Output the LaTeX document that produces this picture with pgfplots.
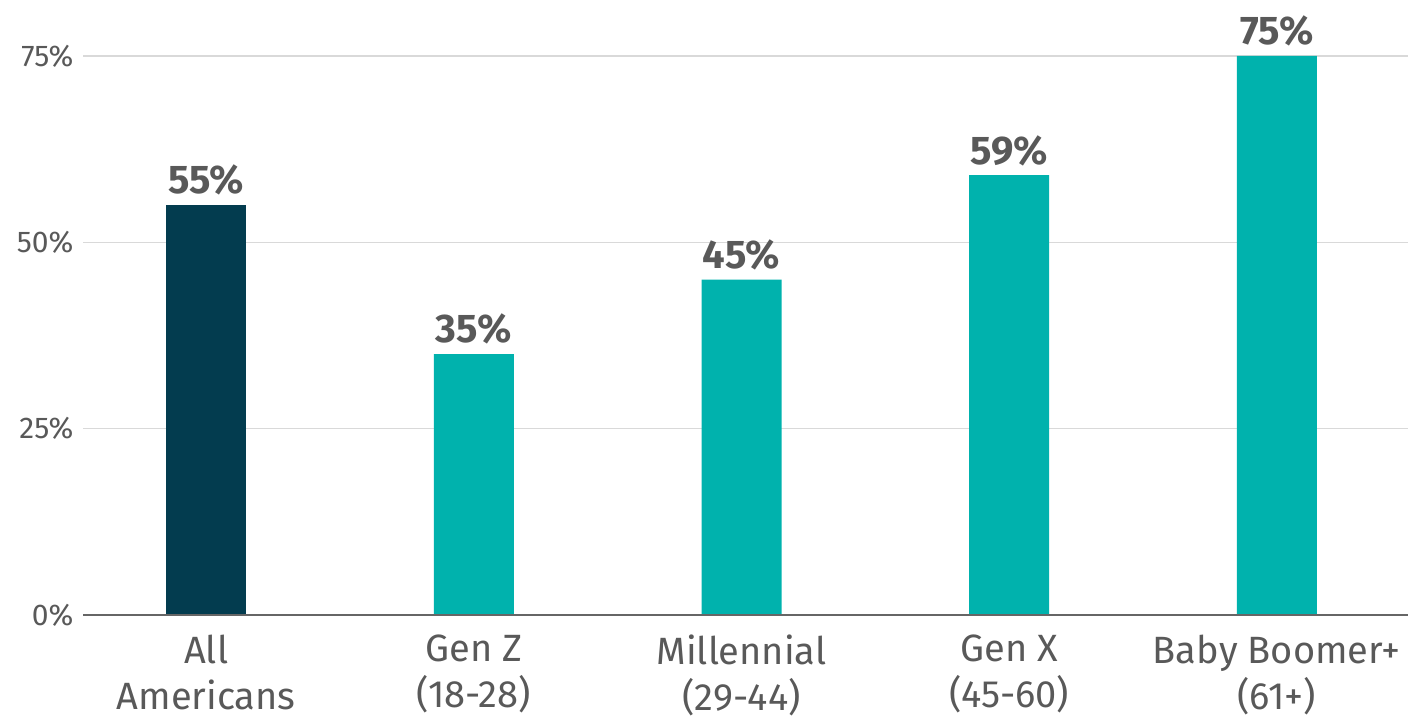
\documentclass[border=0pt]{standalone}
\usepackage{pgfplots}
\pgfplotsset{compat=1.18}
\usepackage{fontspec}
\setmainfont{Fira Sans}
\definecolor{darkbar}{HTML}{033C4F}
\definecolor{tealbar}{HTML}{00B2AD}
\definecolor{txt}{HTML}{595959}
\definecolor{gridc}{HTML}{D9D9D9}
\definecolor{axisc}{HTML}{666666}
\begin{document}
\begin{tikzpicture}
\useasboundingbox (-83pt,-104pt) rectangle (1325pt,615pt);
\begin{axis}[
  at={(0,0)}, anchor=south west,
  scale only axis, width=1325pt, height=559pt,
  xmin=-0.46, xmax=4.49, ymin=0, ymax=75,
  axis line style={draw=none},
  ybar, bar width=80pt,
  xtick={0,1,2,3,4},
  xticklabels={All\\Americans,Gen Z\\(18-28),Millennial\\(29-44),Gen X\\(45-60),Baby Boomer+\\(61+)},
  xticklabel style={align=center, font=\fontsize{38}{46}\selectfont, text=txt, anchor=north, yshift=-16pt},
  ytick={0,25,50,75},
  yticklabels={0\%,25\%,50\%,75\%},
  yticklabel style={font=\fontsize{30}{32}\selectfont, text=txt, anchor=east, xshift=-6pt},
  major tick length=0pt,
  ymajorgrids, grid style={draw=gridc, line width=1.2pt},
  clip=false,
  nodes near coords, point meta=explicit symbolic,
  every node near coord/.append style={font=\bfseries\fontsize{40}{42}\selectfont, text=txt, yshift=6pt},
]
\addplot[fill=darkbar, draw=none, bar shift=0pt] coordinates {(0,55) [55\%]};
\addplot[fill=tealbar, draw=none, bar shift=0pt] coordinates {(1,35) [35\%] (2,45) [45\%] (3,59) [59\%] (4,75) [75\%]};
\draw[axisc, line width=2pt] (axis cs:-0.46,0) -- (axis cs:4.49,0);
\end{axis}
\end{tikzpicture}
\end{document}
